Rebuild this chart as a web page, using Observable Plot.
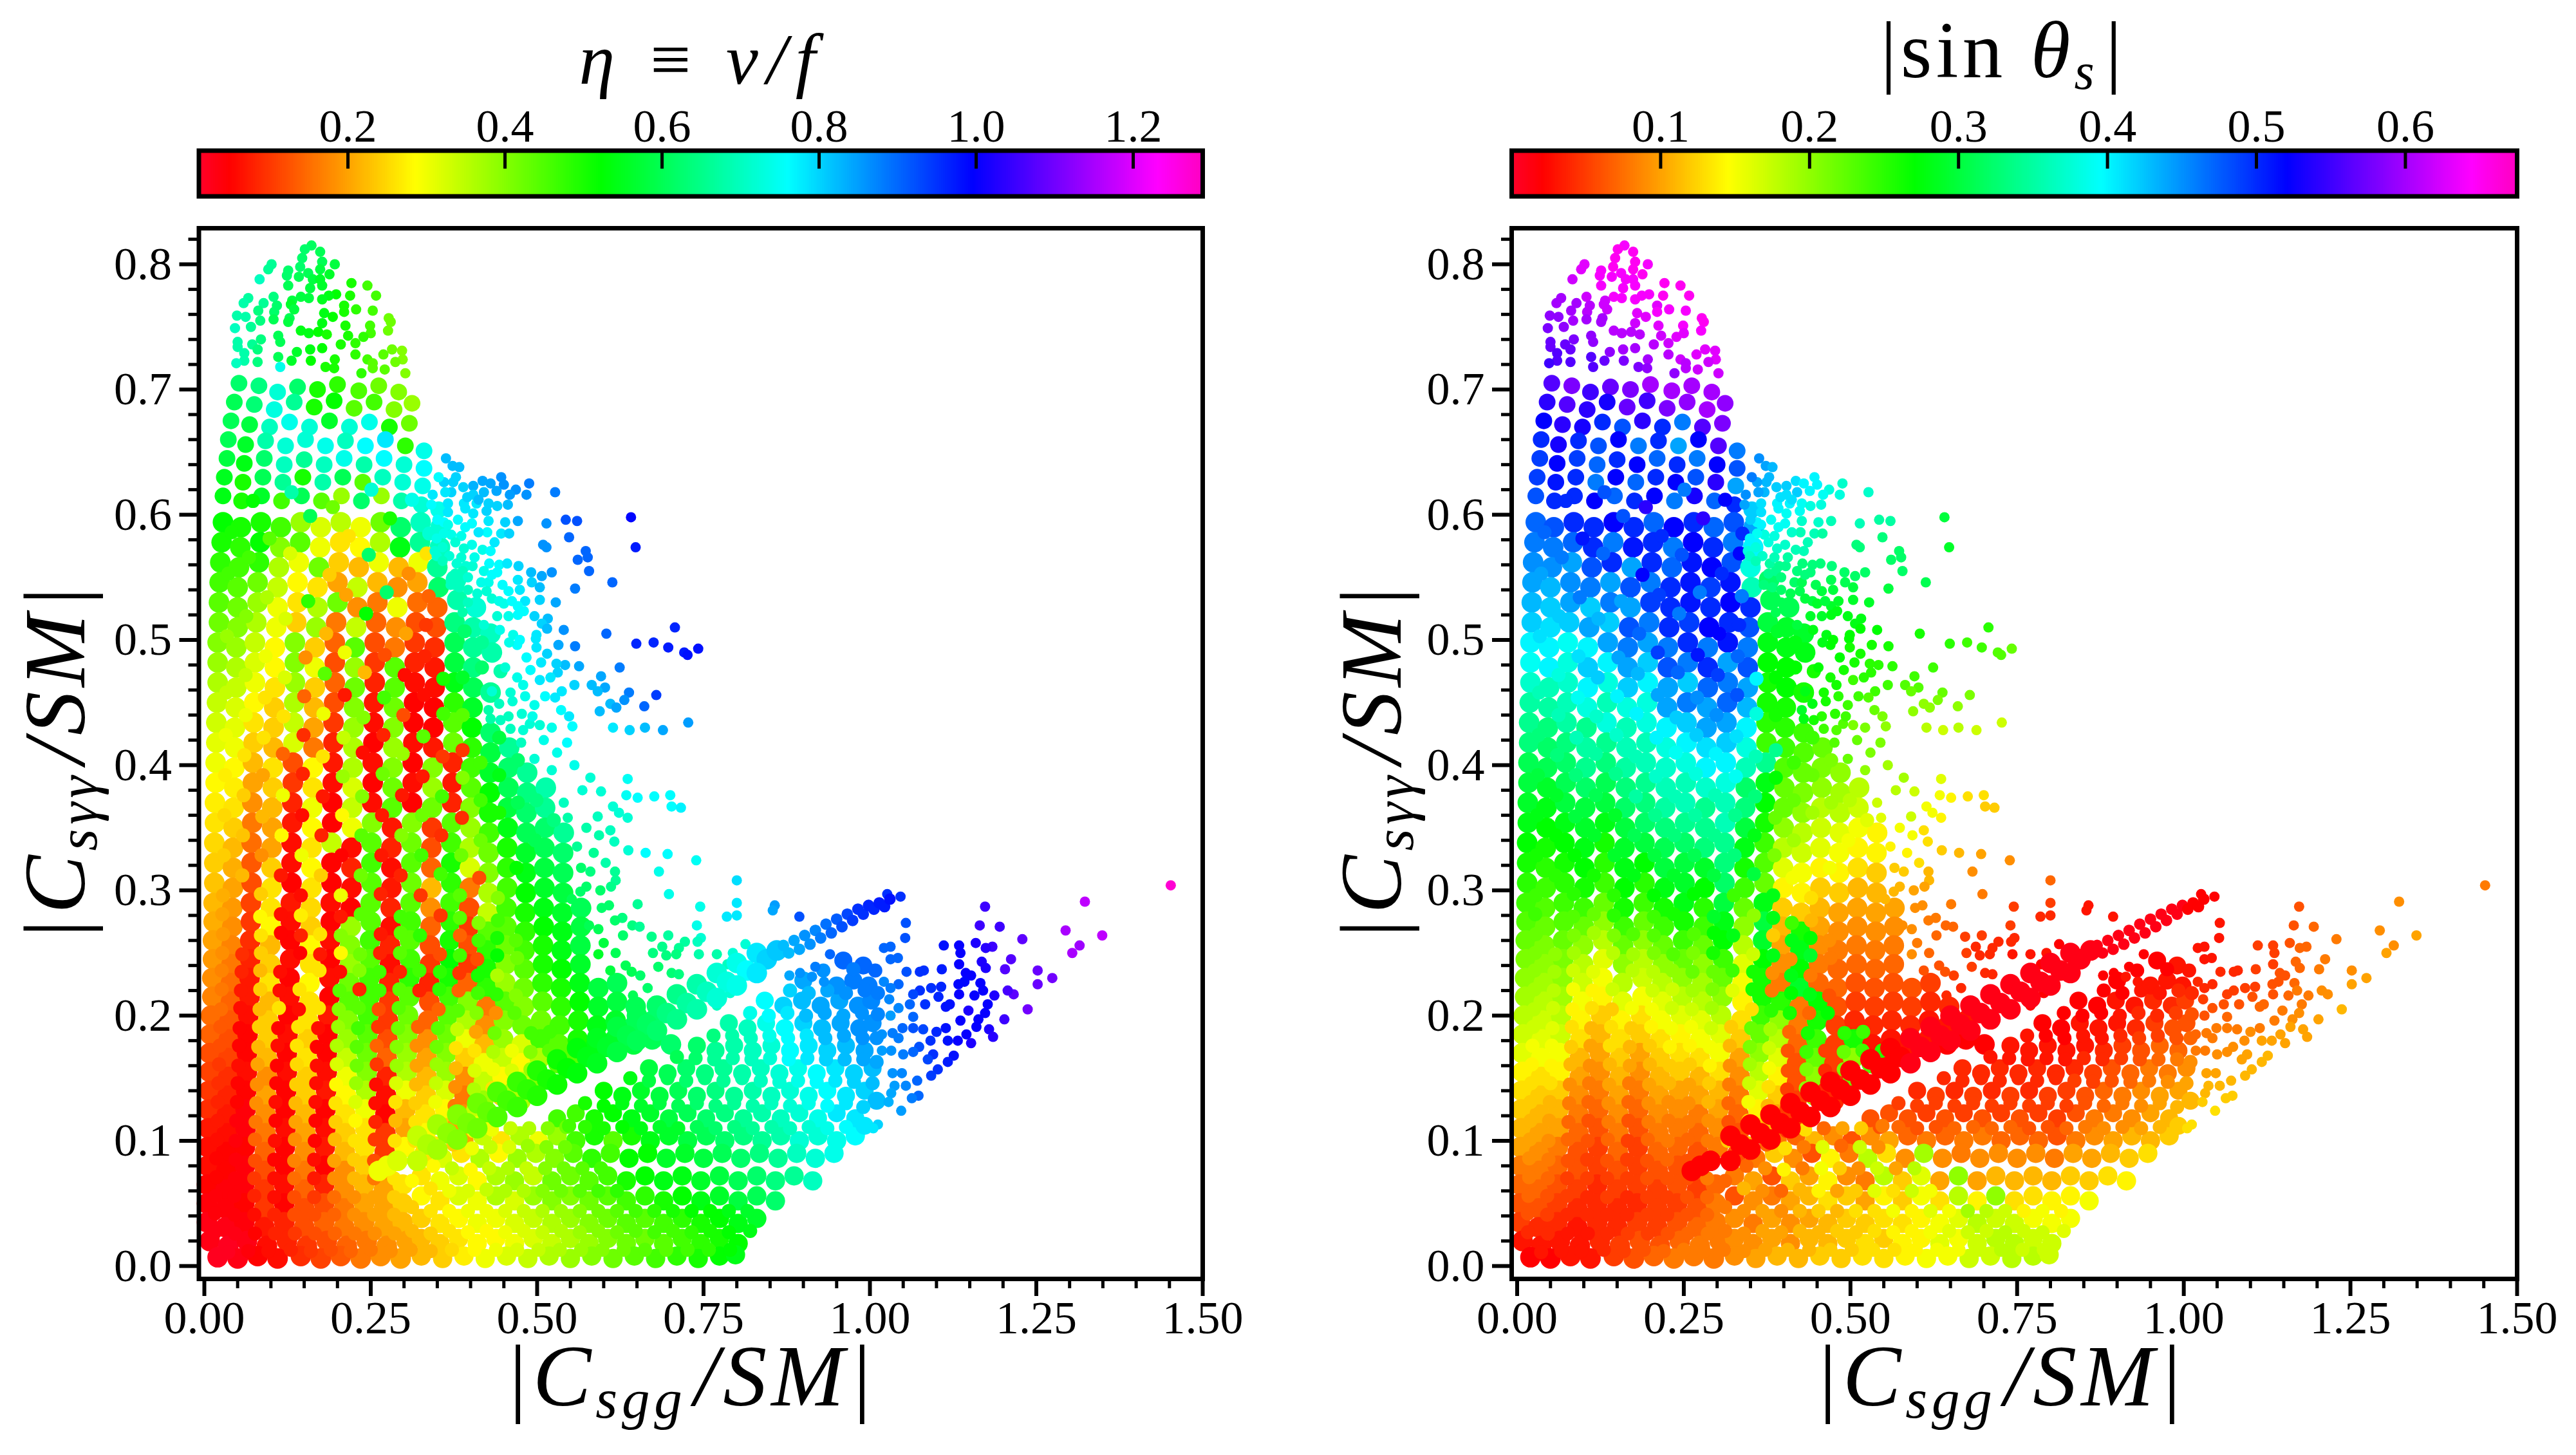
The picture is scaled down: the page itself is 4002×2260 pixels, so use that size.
<!DOCTYPE html>
<html><head><meta charset="utf-8">
<script src="https://cdn.jsdelivr.net/npm/d3@7"></script>
<script src="https://cdn.jsdelivr.net/npm/@observablehq/plot@0.6"></script>
<style>
html,body{margin:0;padding:0;background:#fff}
#page{position:relative;width:4002px;height:2260px;overflow:hidden;font-family:"Liberation Serif",serif;color:#000}
#page svg{position:absolute;background:transparent}
.m{position:absolute;white-space:nowrap;font-family:"Liberation Serif",serif;font-style:italic;line-height:1;letter-spacing:.05em;transform:translate(-50%,-50%)}
.m.r{transform:translate(-50%,-50%) rotate(-90deg)}
.m sub{font-size:64%;vertical-align:-.22em;line-height:0;margin-right:.14em}
.m b{font-weight:normal;font-style:normal}
</style></head><body><div id="page"></div>
<script>
// every row: [|Csgg/SM| x1000, |Csyy/SM| x1000, eta x100, |sin theta_s| x100]
const lobeTop=[[161,815,61,64],[151,812,62,65],[174,810,60,65],[147,805,62,65],[177,802,60,65],[196,800,58,64],[101,800,66,63],[96,796,66,63],[144,798,62,65],[174,796,58,65],[126,795,62,64],[156,793,60,64],[188,792,56,65],[83,788,70,62],[124,791,62,64],[142,790,60,64],[163,788,58,64],[174,788,56,64],[177,783,56,64],[126,783,60,64],[221,785,50,65],[245,783,46,65],[159,781,58,64],[258,775,46,65],[219,775,50,65],[198,776,52,64],[187,775,54,64],[177,772,55,64],[157,773,58,64],[145,774,58,64],[104,774,64,62],[132,771,58,62],[66,773,67,60],[59,769,68,60],[89,769,66,60],[130,768,56,62],[109,767,62,61],[210,767,50,63],[228,764,48,64],[253,763,46,64],[210,762,50,64],[135,764,58,62],[81,763,64,60],[105,762,62,61],[180,761,54,63],[193,758,52,63],[49,759,68,59],[62,758,68,59],[128,757,60,60],[104,756,60,60],[84,755,64,60],[126,754,58,60],[277,757,42,65],[280,754,42,65],[177,753,54,62],[212,751,50,63],[249,751,46,64],[70,750,66,59],[46,749,70,58],[276,747,42,64],[145,747,54,61],[157,745,54,61],[171,746,52,61],[184,744,50,61],[111,743,60,59],[250,745,46,63],[239,742,48,63],[216,743,50,62],[85,740,64,58],[114,738,60,59],[227,737,48,62],[205,736,50,61],[50,738,68,57],[72,736,66,57],[50,734,68,57],[80,732,64,57],[177,733,52,60],[159,732,54,60],[139,730,56,59],[282,732,42,63],[297,731,40,63],[269,728,44,63],[227,728,48,61],[298,724,40,63],[245,724,46,62],[196,724,50,60],[131,723,56,57],[111,726,60,56],[60,729,68,56],[160,723,52,58],[287,722,42,62],[253,721,44,61],[60,723,68,56],[80,722,64,56],[48,721,70,55],[182,718,50,58],[195,717,50,59],[253,717,44,61],[271,716,44,62],[114,718,74,56],[302,713,40,62],[236,713,48,59]];
const fringeHigh=[[363,645,82,45],[373,639,82,44],[383,638,82,43],[418,627,84,41],[446,630,86,40],[450,624,86,40],[488,625,88,37],[527,618,88,37],[468,620,86,38],[459,616,85,39],[439,619,84,40],[484,616,86,38],[404,623,83,42],[420,618,82,42],[374,626,80,43],[360,626,80,44],[389,622,80,42],[404,616,80,41],[371,618,80,43],[343,616,78,45],[427,609,80,39],[440,607,80,38],[456,608,82,38],[390,609,78,40],[409,609,78,40],[366,609,78,41],[424,603,80,39],[392,605,78,40],[366,602,78,41],[341,608,76,44],[404,601,78,39],[471,595,84,36],[641,598,99,30],[543,596,92,35],[560,595,92,35],[514,593,86,36],[427,595,78,37],[452,594,80,37],[381,596,76,39],[402,593,76,39],[360,594,76,40],[425,586,76,36],[446,585,78,36],[458,585,80,35],[648,574,97,29],[548,582,90,33],[509,576,86,33],[514,574,86,33],[386,583,74,38],[371,584,74,38],[360,585,74,39],[349,581,74,40],[377,578,72,38],[402,576,74,37],[390,573,72,37],[418,572,74,36],[430,571,76,36],[573,571,90,32],[576,566,90,32],[561,564,90,32],[346,571,72,38],[368,567,72,37],[349,567,72,37],[578,555,90,32],[428,561,76,33],[443,560,76,33],[455,561,78,33],[472,559,80,33],[358,563,70,36],[379,561,72,35],[393,559,72,34],[403,559,72,34],[388,555,70,34],[377,553,70,34],[420,555,74,33],[440,554,76,33],[491,554,82,32],[522,554,86,32],[507,551,84,32],[613,546,90,31],[492,546,80,31],[471,548,78,31],[396,550,72,33],[416,546,74,32],[427,546,74,31],[557,541,88,30],[504,542,82,30],[474,540,78,30],[457,539,76,30],[383,542,70,33],[396,540,70,32],[424,539,72,31],[432,533,72,30],[443,531,74,30],[482,531,78,29],[504,532,80,29],[528,530,84,29],[471,527,76,29],[450,529,74,29],[396,530,70,31],[480,523,76,28],[471,520,76,28],[496,519,80,28],[457,519,74,29],[440,519,72,29],[516,517,82,28],[507,513,80,28],[515,509,82,27],[540,508,86,27],[707,510,96,25],[604,505,90,26],[675,498,96,24],[649,497,96,25],[697,494,97,24],[721,490,97,23],[726,488,98,23],[742,493,98,22],[532,496,84,26],[557,495,88,26],[499,504,78,27],[498,501,78,27],[499,494,78,26],[515,489,80,26],[464,504,74,28],[474,500,76,27],[470,496,76,27],[624,478,88,24],[596,471,84,24],[563,479,84,25],[542,480,82,25],[529,481,80,25],[531,474,80,25],[504,468,78,24],[582,464,82,23],[556,464,80,24],[602,462,84,23],[591,459,82,22],[537,459,78,24],[527,454,78,23],[638,458,88,22],[679,456,94,21],[631,452,86,21],[610,449,82,20],[619,446,84,20],[661,447,90,20],[594,443,82,20],[536,444,76,22],[548,439,78,21],[727,434,85,17],[614,430,78,18],[639,428,80,17],[662,430,82,18],[689,428,84,17],[553,431,76,20],[522,430,74,21],[504,432,72,21],[489,433,72,23],[479,464,74,26],[482,455,74,25],[460,458,72,26],[432,459,72,28],[463,451,72,26],[443,449,70,28],[427,444,68,29],[457,439,70,25],[477,441,72,25],[493,439,74,24],[430,437,68,28],[460,429,70,24],[479,428,72,23]];
const fringeLow=[[636,389,75,16],[634,376,75,15],[651,374,76,14],[676,375,76,13],[700,376,76,13],[702,367,76,12],[716,366,77,12],[636,358,72,14],[614,367,72,15],[623,362,72,15],[591,359,70,17],[596,379,72,17],[580,390,72,19],[610,348,70,13],[593,344,68,15],[616,339,70,13],[637,332,72,12],[663,330,76,11],[696,329,76,10],[739,324,75,9],[683,315,74,9],[603,322,68,13],[585,330,66,14],[617,315,66,11],[618,308,66,11],[611,303,65,10],[800,308,79,7],[698,297,74,8],[574,303,62,11],[565,299,62,11],[552,293,60,11],[651,289,66,8],[608,288,62,9],[597,286,62,9],[800,290,78,5],[745,287,74,5],[857,288,85,3],[854,284,84,3],[800,280,78,4],[785,279,78,4],[894,279,92,3],[628,278,64,8],[617,276,62,8],[643,272,64,7],[654,271,66,7],[740,272,74,5],[697,264,67,5],[672,263,65,5],[629,264,62,7],[592,269,60,9],[746,262,72,4],[741,259,70,4],[722,259,67,4],[688,255,65,4],[713,254,66,4],[813,257,72,2],[674,250,64,5],[709,249,64,4],[694,248,64,4],[770,249,68,3],[743,249,68,3],[794,250,72,3],[940,249,90,2],[592,249,56,9],[682,239,62,5],[633,240,60,6],[642,235,60,6],[702,234,63,4],[713,233,64,4],[786,241,70,2],[918,239,88,2],[879,232,84,2],[895,234,86,2],[913,231,86,3],[931,227,86,3]];
const tail=[[1452,304,127,8],[1323,291,117,9],[1349,264,117,10],[1294,268,115,9],[1315,256,114,9],[1304,250,115,10],[1274,230,110,10],[1252,236,109,9],[1252,225,109,10],[1237,205,110,11],[1229,261,108,8],[1195,271,105,7],[1173,287,105,6],[1165,272,105,6],[1212,245,107,8],[1203,237,107,8],[1216,217,108,9],[1207,220,106,9],[1202,197,105,10],[1187,216,102,8],[1184,255,105,7],[1174,254,103,7],[1159,258,102,6],[1134,256,100,5],[1136,250,100,5],[1134,241,100,5],[1111,256,98,5],[1168,243,102,7],[1174,238,102,7],[1144,234,100,6],[1152,232,100,6],[1166,226,100,7],[1170,220,100,8],[1133,225,99,6],[1142,227,99,6],[1108,237,97,5],[1081,236,95,4],[1075,235,95,4],[1055,235,92,4],[1053,262,92,3],[1054,274,92,3],[1046,295,95,2],[1026,297,95,2],[1031,255,90,3],[1021,254,90,3],[1042,246,90,3],[1031,245,90,3],[1021,227,87,4],[1043,225,90,4],[1031,222,88,4],[1092,222,95,5],[1107,223,96,5],[1075,220,95,5],[1065,217,93,5],[1103,215,96,6],[1134,217,100,6],[1157,216,100,7],[1177,209,100,8],[1148,204,102,8],[1114,207,98,7],[1120,209,98,7],[1083,209,95,6],[1060,209,90,6],[1043,206,87,6],[1029,213,87,5],[1031,200,85,6],[1065,199,90,7],[1136,196,100,8],[1163,197,100,9],[1173,202,100,9],[1179,189,102,10],[1185,183,103,10],[1152,178,102,10],[1132,180,100,10],[1145,185,100,10],[1160,191,100,10],[1114,190,98,8],[1100,187,96,9],[1117,180,98,10],[1091,180,95,9],[1080,189,93,8],[1065,190,92,8],[1049,190,90,8],[1034,186,88,8],[1018,185,86,7],[1043,182,88,8],[1074,175,92,9],[1126,168,98,11],[1117,163,97,11],[1095,169,95,10],[1087,165,93,10],[1102,157,95,11],[1092,152,94,11],[1065,171,90,9],[1050,169,88,9],[1032,172,86,8],[1018,172,85,8],[1048,154,87,10],[1034,154,86,10],[1071,148,90,11],[1054,144,87,11],[1037,144,85,11],[1073,136,90,12],[1063,134,88,12],[1032,138,84,11],[1028,131,83,12],[1047,124,85,13],[1012,113,80,13],[1005,110,78,13]];
const coreTop=[[52,705,62,56],[82,703,64,58],[110,698,72,55],[140,702,62,57],[170,700,50,58],[200,704,48,60],[232,699,45,60],[262,703,42,60],[292,698,40,60],[45,690,60,54],[75,688,63,56],[105,684,73,54],[135,690,66,53],[165,686,50,57],[195,691,52,55],[225,685,44,58],[255,690,46,59],[285,684,40,60],[312,689,38,59],[40,675,60,52],[68,672,58,54],[98,670,70,53],[128,674,74,50],[158,670,72,48],[188,675,56,54],[218,670,72,50],[248,674,74,46],[278,670,50,56],[308,673,42,58],[36,660,60,50],[62,656,56,53],[92,659,68,50],[122,655,72,48],[152,660,72,52],[182,655,74,46],[212,659,70,50],[242,655,76,44],[272,660,78,52],[302,655,48,56],[330,651,74,46],[34,645,58,49],[60,641,54,52],[90,645,62,49],[120,640,70,47],[150,644,66,50],[180,640,70,52],[210,645,74,47],[240,640,68,50],[270,645,76,46],[300,640,72,52],[330,637,76,48],[30,630,55,49],[58,626,50,51],[88,630,60,50],[118,626,66,46],[148,630,50,52],[178,626,68,47],[208,630,60,50],[238,626,44,52],[268,630,70,48],[298,626,72,54],[328,623,74,44],[28,615,54,48],[56,611,50,50],[86,615,56,50],[116,611,46,52],[146,615,60,47],[176,611,44,50],[206,615,38,52],[236,611,62,46],[266,615,38,53],[296,611,68,47],[326,608,72,50],[352,604,74,42]];
const coreUpper=[[28,594,52,47],[55,590,50,48],[85,594,50,50],[115,590,46,50],[145,594,38,52],[175,590,32,50],[205,594,35,47],[235,590,30,52],[265,594,42,50],[295,590,62,47],[325,594,70,48],[355,590,72,44],[26,578,50,46],[54,574,48,46],[84,578,52,47],[114,574,40,50],[144,578,44,46],[174,574,30,51],[204,578,26,50],[234,574,28,46],[264,578,36,52],[294,574,54,50],[324,578,66,46],[354,574,70,40],[24,562,48,45],[52,558,46,45],[82,562,48,44],[112,558,36,48],[142,562,30,50],[172,558,42,44],[202,562,24,50],[232,558,22,47],[262,562,30,51],[292,558,22,52],[322,562,30,48],[350,558,66,38],[23,546,46,44],[50,542,44,43],[80,546,42,45],[110,542,34,46],[140,546,28,44],[170,542,26,48],[200,546,20,46],[230,542,34,50],[260,546,22,51],[290,542,18,49],[320,546,20,51],[352,542,62,36],[378,548,70,32],[22,530,44,43],[50,526,42,42],[80,530,38,44],[110,526,30,42],[140,530,26,46],[170,526,36,44],[200,530,42,49],[230,526,18,50],[260,530,16,51],[290,526,30,50],[320,530,15,52],[350,526,14,50],[380,532,68,31],[408,526,72,31],[22,514,42,42],[50,510,40,41],[78,514,36,42],[108,510,30,44],[138,514,24,42],[168,510,38,48],[198,514,16,46],[228,510,34,50],[258,514,14,49],[288,510,18,52],[318,514,12,50],[348,510,12,48],[376,514,64,30],[404,510,68,29],[430,505,70,29],[20,498,40,40],[48,494,38,40],[76,498,34,39],[106,494,28,40],[136,498,40,44],[166,494,24,46],[196,498,14,44],[226,494,44,46],[256,498,12,50],[286,494,16,46],[316,498,10,51],[346,494,9,46],[376,498,60,28],[404,494,66,28],[432,490,68,28],[20,482,38,39],[48,478,36,40],[76,482,32,38],[106,478,28,42],[136,482,40,40],[166,478,30,44],[196,482,12,42],[226,478,38,48],[256,482,10,46],[286,478,44,50],[316,482,8,44],[346,478,7,48],[376,482,58,27],[404,478,64,27],[20,466,36,37],[48,462,34,36],[76,466,30,37],[106,462,26,40],[136,466,38,38],[166,462,24,42],[196,466,14,40],[226,462,42,44],[256,466,8,42],[286,462,44,47],[316,466,6,46],[346,462,6,44],[376,466,54,26],[404,462,60,27],[430,458,66,26],[19,450,34,35],[47,446,32,35],[75,450,28,36],[105,446,24,38],[135,450,36,36],[165,446,22,38],[195,450,12,38],[225,446,40,44],[255,450,7,46],[285,446,42,44],[315,450,5,47],[345,446,5,43],[375,450,48,26],[403,446,56,26],[18,434,33,34],[46,430,31,33],[74,434,26,35],[104,430,24,34],[134,434,34,38],[164,430,20,36],[194,434,10,38],[224,430,38,40],[254,434,6,42],[284,430,40,44],[314,434,5,44],[344,430,5,40],[374,434,44,25],[402,430,52,25],[430,426,62,24],[18,418,31,33],[46,414,30,32],[74,418,24,33],[104,414,22,35],[134,418,32,34],[164,414,16,36],[194,418,8,36],[224,414,36,38],[254,418,5,40],[284,414,38,41],[314,418,6,42],[344,414,7,38],[374,418,42,24],[402,414,48,24],[430,410,58,23],[458,414,66,22],[17,402,30,31],[45,398,28,31],[73,402,22,32],[103,398,26,34],[133,402,12,33],[163,398,28,35],[193,402,7,36],[223,398,36,37],[253,402,6,38],[283,398,40,40],[313,402,5,40],[343,398,40,36],[373,402,8,34],[401,398,46,23],[429,394,56,22],[457,398,62,21],[485,394,66,20],[17,386,28,30],[45,382,27,29],[73,386,20,31],[103,382,24,32],[133,386,10,31],[163,382,26,33],[193,386,6,34],[223,382,32,36],[253,386,5,36],[283,382,42,37],[313,386,6,38],[343,382,38,32],[373,386,7,28],[401,382,44,22],[429,378,52,21],[457,382,60,20],[485,378,64,19],[513,382,68,18],[16,370,27,29],[44,366,26,28],[72,370,18,30],[102,366,22,30],[132,370,8,30],[162,366,30,32],[192,370,5,33],[222,366,34,35],[252,370,6,36],[282,366,44,34],[312,370,5,36],[342,366,42,33],[372,370,8,27],[400,366,40,22],[428,362,50,20],[456,366,58,18],[484,362,62,18],[512,366,66,17],[16,354,26,28],[44,350,24,27],[72,354,16,28],[102,350,20,29],[132,354,7,28],[162,350,28,30],[192,354,5,32],[222,350,30,33],[252,354,40,34],[282,350,7,34],[312,354,40,36],[342,350,10,30],[372,354,44,26],[400,350,38,20],[428,346,46,18],[456,350,54,17],[484,346,60,16],[512,350,62,15],[540,346,66,14],[15,338,25,27],[43,334,22,26],[71,338,15,27],[101,334,20,28],[131,338,6,26],[161,334,26,29],[191,338,34,30],[221,334,6,31],[251,338,44,32],[281,334,8,33],[311,338,42,34],[341,334,12,28],[371,338,46,24],[399,334,36,18],[427,330,42,17],[455,334,50,16],[483,330,56,15],[511,334,60,14],[539,330,62,14],[15,322,24,26],[43,318,21,25],[71,322,13,26],[101,318,24,27],[131,322,6,25],[161,318,28,28],[191,322,5,27],[221,318,8,30],[251,322,46,30],[281,318,6,29],[311,322,44,33],[341,318,14,26],[371,322,50,23],[399,318,32,16],[427,314,40,15],[455,318,48,14],[483,314,54,14],[511,318,58,13],[539,314,60,12],[15,306,23,25],[43,302,20,24],[71,306,12,25],[101,302,26,26],[131,306,5,24],[161,302,26,27],[191,306,5,25],[221,302,6,28],[251,306,44,29],[281,302,7,27],[311,306,42,32],[341,302,22,24],[371,306,48,22],[399,302,16,14],[427,298,36,14],[455,302,46,12],[483,298,52,12],[511,302,56,11],[539,298,58,11]];
const coreLower=[[14,290,22,24],[42,286,19,23],[70,290,11,24],[100,286,26,24],[130,290,7,22],[160,286,25,26],[190,290,6,24],[220,286,5,26],[250,290,44,28],[280,286,8,25],[310,290,44,30],[340,286,18,22],[370,290,46,28],[398,286,12,12],[426,282,34,12],[454,286,46,11],[482,282,50,10],[510,286,54,10],[538,282,56,10],[566,286,60,10],[14,275,21,23],[42,271,18,22],[70,275,10,23],[100,271,28,22],[130,275,6,20],[160,271,24,24],[190,275,5,22],[220,271,38,24],[250,275,44,26],[280,271,6,24],[310,275,46,28],[340,271,14,20],[370,275,48,30],[398,271,10,11],[426,267,44,26],[454,271,44,10],[482,267,48,9],[510,271,52,9],[538,267,54,9],[566,271,58,9],[13,260,20,22],[41,256,17,21],[69,260,9,22],[99,256,22,20],[129,260,5,18],[159,256,28,22],[189,260,6,20],[219,256,40,22],[249,260,46,24],[279,256,8,22],[309,260,44,27],[339,256,12,18],[369,260,50,29],[397,256,12,10],[425,252,48,28],[453,256,42,9],[481,252,46,8],[509,256,50,8],[537,252,54,8],[565,256,58,8],[13,245,19,21],[41,241,16,20],[69,245,8,21],[99,241,24,18],[129,245,6,16],[159,241,26,20],[189,245,5,18],[219,241,38,20],[249,245,44,22],[279,241,6,20],[309,245,46,24],[339,241,10,16],[369,245,52,27],[397,241,10,9],[425,237,50,27],[453,241,40,8],[481,237,44,7],[509,241,50,7],[537,237,52,7],[565,241,56,7],[12,230,18,20],[40,226,15,19],[68,230,7,20],[98,226,26,17],[128,230,5,15],[158,226,28,18],[188,230,6,17],[218,226,42,18],[248,230,46,20],[278,226,8,19],[308,230,48,22],[338,226,8,15],[368,230,50,26],[396,226,14,8],[424,222,48,29],[452,226,38,7],[480,222,42,7],[508,226,48,6],[536,222,50,6],[564,226,54,6],[592,222,58,6],[620,226,60,5],[12,215,17,19],[40,211,14,18],[68,215,7,19],[98,211,22,15],[128,215,6,14],[158,211,26,16],[188,215,5,15],[218,211,44,16],[248,215,46,18],[278,211,10,18],[308,215,44,20],[338,211,12,14],[368,215,46,26],[396,211,40,25],[424,207,16,8],[452,211,44,27],[480,207,40,6],[508,211,44,5],[536,207,48,5],[564,211,52,5],[592,207,56,5],[620,211,58,4],[648,207,60,4],[10,200,15,18],[38,196,13,17],[66,200,6,18],[96,196,24,14],[126,200,5,12],[156,196,26,14],[186,200,7,13],[216,196,40,15],[246,200,46,16],[276,196,10,16],[306,200,42,18],[336,196,14,13],[366,200,44,24],[394,196,36,20],[422,192,18,8],[450,196,40,26],[478,192,42,5],[506,196,42,4],[534,192,46,4],[562,196,50,4],[590,192,54,4],[618,196,56,3],[646,192,60,3],[674,196,62,3],[9,185,14,17],[37,181,12,16],[65,185,5,17],[95,181,24,13],[125,185,6,11],[155,181,24,13],[185,185,5,12],[215,181,38,13],[245,185,44,14],[275,181,12,15],[305,185,40,16],[335,181,18,12],[365,185,42,22],[393,181,30,18],[421,177,22,7],[449,181,38,24],[477,177,32,5],[505,181,46,26],[533,177,44,3],[561,181,50,3],[589,177,54,3],[617,181,56,3],[645,177,58,2],[673,181,60,2],[701,177,62,2],[8,170,12,16],[36,166,11,15],[64,170,5,15],[94,166,22,11],[124,170,5,10],[154,166,26,12],[184,170,5,10],[214,166,34,12],[244,170,42,13],[274,166,14,13],[304,170,38,15],[334,166,20,10],[364,170,40,20],[392,166,24,16],[420,162,30,6],[448,166,34,22],[476,162,28,5],[504,166,36,20],[532,162,44,23],[560,166,44,2],[8,155,11,14],[36,151,9,13],[64,155,6,14],[94,151,18,10],[124,155,6,9],[154,151,24,11],[184,155,6,9],[214,151,30,11],[244,155,40,12],[274,151,8,11],[304,155,36,13],[334,151,22,9],[364,155,38,18],[392,151,18,14],[420,147,34,6],[448,151,28,20],[476,147,34,4],[504,151,40,22],[7,140,10,13],[35,136,8,12],[63,140,5,12],[93,136,20,9],[123,140,5,8],[153,136,24,10],[183,140,7,8],[213,136,28,10],[243,140,36,10],[273,136,6,10],[303,140,30,11],[333,136,24,8],[363,140,32,16],[391,136,16,12],[419,132,38,5],[447,136,24,19],[475,132,36,4],[6,125,9,12],[34,121,7,11],[62,125,4,11],[92,121,18,8],[122,125,5,7],[152,121,22,9],[182,125,5,7],[212,121,26,9],[242,125,30,9],[272,121,5,8],[302,125,22,10],[332,121,26,7],[362,125,28,14],[390,121,18,10],[418,117,30,5],[6,110,7,11],[34,106,6,10],[62,110,4,10],[92,106,16,7],[122,110,6,6],[152,106,20,8],[182,110,6,6],[212,106,24,8],[242,110,26,8],[272,106,10,7],[302,110,20,9],[332,106,28,6],[362,110,24,12],[5,95,6,10],[33,91,5,9],[61,95,5,8],[91,91,14,6],[121,95,5,5],[151,91,18,7],[181,95,7,5],[211,91,22,7],[241,95,26,7],[271,91,10,6],[301,95,28,8],[5,80,6,8],[33,76,5,8],[61,80,4,7],[91,76,12,6],[121,80,5,5],[151,76,16,6],[181,80,5,5],[211,76,18,6],[241,80,24,6],[271,76,18,6],[4,65,5,7],[32,61,4,7],[60,65,4,6],[90,61,10,5],[120,65,6,4],[150,61,14,5],[180,65,8,5],[210,61,18,5],[240,65,22,6],[270,61,20,5],[298,65,26,7],[4,50,4,6],[32,46,4,6],[60,50,5,5],[90,46,10,4],[120,50,5,4],[150,46,12,4],[180,50,12,4],[210,46,16,5],[240,50,20,5],[270,46,20,6],[298,50,24,8],[4,35,3,5],[32,31,3,4],[60,35,4,4],[90,31,7,3],[120,35,8,4],[150,31,12,4],[180,35,14,5],[210,31,16,5],[240,35,18,6],[270,31,20,7],[298,35,22,8],[8,20,3,3],[36,16,2,3],[64,20,3,3],[94,16,6,3],[124,20,8,4],[154,16,10,5],[184,20,12,6],[214,16,14,6],[244,20,16,7],[274,16,18,8],[304,20,20,8],[20,7,2,2],[50,6,3,2],[80,8,5,3],[110,6,6,3],[145,8,9,5],[175,6,11,6],[205,8,13,7],[235,6,16,8],[265,8,18,8],[295,6,20,8]];
const wedge=[[390,100,20,8],[418,104,34,7],[446,100,26,11],[474,104,36,9],[502,100,30,6],[530,104,38,9],[558,100,46,10],[586,104,50,7],[614,100,44,8],[642,104,50,7],[670,100,54,8],[698,104,56,8],[726,100,58,7],[754,104,60,7],[782,100,62,7],[810,104,64,6],[838,100,66,8],[866,104,68,9],[894,100,72,10],[922,104,72,11],[950,100,74,11],[978,104,76,12],[330,90,26,6],[358,86,32,8],[386,90,26,12],[414,86,36,9],[442,90,28,6],[470,86,38,14],[498,90,36,8],[526,86,40,18],[554,90,44,13],[582,86,48,9],[610,90,46,19],[638,86,52,9],[666,90,52,8],[694,86,56,9],[722,90,56,9],[750,86,58,9],[778,90,60,9],[806,86,62,8],[834,90,64,10],[862,86,66,10],[890,90,70,11],[918,86,72,12],[946,90,74,13],[326,72,26,8],[354,68,30,10],[382,72,32,6],[410,68,28,12],[438,72,36,10],[466,68,38,14],[494,72,34,9],[522,68,42,8],[550,72,42,18],[578,68,44,12],[606,72,46,16],[634,68,50,10],[662,72,52,20],[690,68,54,10],[718,72,54,11],[746,68,56,11],[774,72,58,11],[802,68,60,11],[830,72,62,12],[858,68,64,12],[886,72,66,13],[914,68,70,14],[326,56,28,6],[354,52,26,9],[382,56,32,8],[410,52,30,10],[438,56,36,11],[466,52,32,13],[494,56,38,12],[522,52,40,10],[550,56,40,14],[578,52,42,12],[606,56,44,15],[634,52,46,13],[662,56,48,18],[690,52,50,14],[718,56,52,20],[746,52,54,13],[774,56,56,13],[802,52,58,14],[830,56,60,14],[858,52,62,15],[326,38,24,9],[354,34,26,8],[382,38,28,10],[410,34,30,9],[438,38,30,10],[466,34,32,11],[494,38,34,12],[522,34,36,12],[550,38,38,13],[578,34,40,13],[606,38,42,14],[634,34,44,15],[662,38,44,16],[690,34,46,18],[718,38,48,17],[746,34,50,17],[774,38,52,15],[802,34,54,15],[830,38,56,15],[326,22,22,9],[354,18,24,9],[382,22,26,10],[410,18,28,9],[438,22,28,11],[466,18,30,11],[494,22,32,12],[522,18,34,13],[550,22,36,12],[578,18,38,14],[606,22,40,14],[634,18,42,16],[662,22,42,15],[690,18,44,17],[718,22,46,18],[746,18,48,18],[774,22,50,17],[802,18,52,17],[326,8,22,9],[358,6,24,10],[390,8,27,11],[422,6,30,11],[454,8,32,12],[486,6,34,12],[518,8,36,13],[550,6,38,13],[582,8,40,14],[614,6,42,15],[646,8,44,15],[678,6,46,17],[710,8,48,17],[742,6,50,18],[774,8,52,18],[798,9,54,17]];
const wedgeUpper=[[530,118,46,6],[558,122,46,6],[586,118,50,6],[614,122,52,5],[642,118,54,6],[670,122,56,5],[698,118,58,6],[726,122,60,5],[754,118,62,6],[782,122,64,5],[810,118,66,5],[838,122,68,6],[866,118,70,8],[894,122,72,8],[922,118,74,9],[950,122,78,10],[978,118,78,11],[992,112,78,12],[600,140,52,4],[628,136,54,5],[656,140,56,4],[684,136,58,5],[712,140,60,4],[740,136,62,5],[768,140,64,4],[796,136,66,5],[824,140,68,5],[852,136,70,6],[880,140,72,7],[908,136,74,8],[936,140,76,9],[964,136,78,10],[992,140,80,10],[1010,132,82,11],[668,158,58,4],[696,154,60,4],[724,158,62,4],[752,154,64,4],[780,158,66,4],[808,154,68,4],[836,158,70,4],[864,154,72,5],[892,158,74,6],[920,154,76,7],[948,158,78,8],[976,154,80,8],[1004,158,82,9],[740,176,62,3],[768,172,66,3],[796,176,68,3],[824,172,70,3],[852,176,72,3],[880,172,76,4],[908,176,78,5],[936,172,80,6],[964,176,82,7],[992,172,84,7],[788,194,68,2],[816,190,70,2],[844,194,74,3],[872,190,76,3],[900,194,80,3],[928,190,82,4],[956,194,84,5],[984,190,86,6],[1004,194,86,6],[842,212,76,2],[870,208,80,2],[898,212,82,3],[926,208,84,3],[954,212,84,4],[982,208,86,4],[1002,212,87,5],[900,228,84,2],[950,224,86,3],[975,228,88,3],[998,224,88,3],[960,244,90,2],[990,240,90,3]];
// irregular scatter read from the mottled inner cloud
const speckleUpper=[[73,611,52,50],[131,618,68,48],[193,606,42,54],[251,620,72,46],[312,612,74,52],[41,586,50,47],[98,581,44,51],[159,599,60,48],[217,583,26,50],[279,597,50,54],[338,585,72,50],[67,566,46,46],[129,569,32,47],[188,552,24,52],[247,568,62,48],[307,553,18,50],[334,569,26,52],[36,553,46,44],[94,534,36,46],[156,531,48,44],[213,536,20,49],[274,538,62,46],[337,535,14,46],[63,519,40,42],[122,517,32,43],[183,505,22,47],[243,521,52,46],[303,505,20,52],[333,512,10,50],[34,503,38,41],[92,487,30,41],[152,486,18,44],[211,490,30,49],[271,488,12,51],[331,487,8,47],[62,472,34,38],[121,470,32,42],[181,473,44,43],[241,474,22,47],[301,472,6,49],[359,469,50,40],[33,458,34,36],[91,454,26,39],[150,455,14,40],[211,456,7,44],[270,454,46,45],[330,456,6,48],[62,440,30,36],[119,439,26,37],[179,441,30,40],[239,438,40,42],[299,440,12,45],[359,441,46,38],[32,424,30,33],[89,422,26,36],[149,424,9,37],[209,422,34,40],[269,424,8,42],[329,423,44,41],[60,408,26,33],[118,409,14,35],[178,407,26,36],[238,410,6,39],[298,409,38,40],[358,407,10,36],[31,392,27,30],[88,392,20,33],[148,393,8,34],[208,391,38,37],[268,393,42,38],[328,391,7,39],[388,390,40,27],[59,376,24,29],[118,376,30,31],[178,375,7,35],[237,375,40,36],[297,376,7,36],[357,375,46,33],[30,360,25,28],[87,359,22,30],[147,360,6,29],[207,360,28,34],[267,360,7,35],[327,360,42,34],[387,358,9,22],[58,344,23,27],[116,344,28,29],[176,344,8,31],[236,344,44,33],[296,344,40,34],[356,344,9,28],[29,328,24,26],[86,328,18,27],[146,328,30,29],[206,328,5,30],[266,328,7,31],[326,328,46,33],[386,328,42,21],[57,312,22,25],[115,312,7,26],[175,312,24,28],[235,312,42,29],[295,312,8,30],[355,313,46,30],[413,310,12,15],[28,296,21,24],[85,297,24,25],[145,296,6,25],[205,296,30,27],[265,297,8,27],[325,296,10,24],[384,296,44,28],[441,294,40,13],[469,318,52,15],[497,340,60,15],[525,356,64,16],[415,340,42,19],[443,362,50,19],[471,370,60,19],[499,372,64,18],[415,372,46,22],[443,392,54,22],[471,404,62,21],[415,402,46,24],[443,422,58,24],[388,412,10,34],[388,440,44,26],[388,470,56,27],[391,507,62,29],[417,478,62,27],[417,498,66,28],[445,475,68,26]];
const speckleLower=[[27,281,20,24],[84,279,28,23],[115,281,6,22],[145,280,27,25],[205,279,7,24],[235,281,44,26],[295,279,46,29],[355,280,10,20],[384,278,44,28],[412,274,40,24],[441,276,46,11],[28,265,19,22],[85,264,26,21],[115,266,5,19],[145,264,8,21],[174,265,26,23],[205,264,40,23],[265,265,7,23],[295,266,44,27],[324,264,48,28],[384,264,14,12],[412,260,46,28],[440,262,50,27],[468,260,44,9],[27,250,18,21],[57,249,9,20],[85,250,24,19],[144,250,5,18],[174,249,7,19],[205,250,28,21],[234,249,42,23],[264,250,8,21],[294,250,44,26],[354,249,12,17],[384,248,46,28],[410,245,12,9],[440,248,52,29],[470,246,42,8],[26,236,17,20],[56,235,8,19],[84,236,22,17],[114,235,6,16],[173,236,26,18],[204,235,6,18],[233,236,40,20],[263,235,46,22],[294,235,8,22],[323,236,46,24],[354,235,48,26],[383,234,10,9],[411,232,50,28],[440,232,36,8],[26,221,16,19],[55,220,7,18],[84,221,24,15],[113,220,6,14],[143,221,26,17],[203,220,44,17],[233,221,8,17],[263,220,46,19],[293,221,44,21],[323,220,8,16],[353,221,48,26],[382,220,14,8],[411,218,46,27],[439,217,48,28],[468,216,40,6],[25,205,15,18],[54,206,6,17],[83,205,22,14],[112,206,26,13],[142,205,6,12],[172,206,26,15],[202,205,40,15],[232,206,44,17],[262,205,12,17],[292,206,44,19],[352,205,14,13],[381,204,44,25],[409,202,40,26],[438,202,18,7],[466,202,44,27],[24,191,13,17],[53,190,5,16],[82,191,24,13],[111,190,5,11],[141,191,26,13],[171,190,6,12],[201,191,38,14],[231,190,46,15],[261,191,10,15],[291,190,42,17],[321,191,14,12],[351,190,44,22],[380,189,34,19],[408,187,20,7],[436,186,42,26],[491,186,46,25],[519,187,46,24],[23,176,12,15],[52,176,5,15],[81,175,22,12],[110,176,6,10],[139,176,26,13],[169,175,5,11],[199,176,36,12],[229,175,44,14],[259,176,14,14],[289,175,40,15],[319,176,18,11],[349,175,42,21],[378,174,26,17],[406,172,26,6],[434,171,36,24],[462,172,30,5],[490,171,40,22],[518,172,44,24],[547,172,44,25],[22,161,10,14],[51,160,6,14],[80,161,20,11],[109,160,5,9],[139,161,25,11],[169,160,6,10],[199,161,32,11],[229,160,42,12],[259,161,10,12],[289,160,38,14],[319,160,20,9],[349,161,38,19],[378,158,22,15],[406,156,32,6],[434,157,30,21],[462,156,32,4],[490,157,38,21],[21,146,9,13],[50,146,5,13],[79,145,18,9],[108,146,5,8],[138,145,24,10],[168,146,6,8],[198,145,28,10],[228,146,38,11],[258,145,6,10],[288,146,32,12],[318,145,22,8],[348,146,34,17],[377,143,18,13],[405,141,36,5],[433,142,26,20],[461,141,36,4],[20,131,8,12],[49,131,5,11],[78,130,18,8],[107,131,6,7],[137,130,22,9],[167,131,6,7],[197,130,26,9],[227,131,32,9],[257,130,6,9],[287,131,26,11],[317,130,24,7],[347,131,30,15],[376,128,16,11],[404,125,34,5],[20,116,7,11],[48,116,4,10],[77,115,16,7],[107,116,5,6],[137,115,20,8],[167,116,5,6],[197,115,24,8],[227,116,28,8],[257,115,8,8],[287,116,22,9],[317,115,26,6],[347,116,26,13],[376,113,20,11],[404,108,28,5],[432,109,30,13],[460,110,34,7],[488,110,36,10],[516,110,40,12],[544,111,42,6],[19,101,6,10],[47,100,4,9],[76,101,14,7],[106,100,6,6],[136,101,18,7],[166,100,5,5],[196,101,22,7],[226,100,26,8],[256,101,10,7],[286,100,26,8],[316,100,26,12],[346,98,26,11],[374,97,24,7],[402,94,30,13],[430,95,34,8],[458,95,32,16],[486,96,38,7],[514,95,40,17],[542,95,42,9],[18,86,5,9],[47,85,4,8],[76,84,12,6],[105,85,5,5],[135,84,17,6],[165,85,6,5],[195,84,20,6],[225,85,24,7],[255,84,12,6],[285,85,26,7],[315,84,24,11],[344,80,28,7],[372,78,34,9],[400,77,28,14],[428,78,34,8],[456,78,36,15],[484,78,34,12],[512,78,40,9],[540,78,42,17],[568,78,44,10],[596,78,46,18],[18,71,5,8],[46,70,4,7],[75,70,10,5],[105,70,6,5],[135,70,15,5],[165,70,7,5],[195,70,18,6],[225,70,22,6],[255,70,16,6],[285,70,26,8],[312,68,28,7],[340,62,26,11],[368,60,30,9],[396,60,32,7],[424,61,34,11],[452,60,36,14],[480,60,36,10],[508,60,40,12],[536,60,42,16],[564,60,44,13],[592,60,46,17],[620,60,48,15],[17,56,4,7],[45,56,4,6],[75,56,8,5],[105,55,6,4],[135,55,12,5],[165,55,10,4],[195,55,15,5],[225,55,18,5],[255,55,20,6],[285,55,24,7],[312,47,24,8],[340,44,26,9],[368,44,28,10],[396,44,30,9],[424,44,30,11],[452,44,32,12],[480,44,34,11],[508,44,36,13],[536,44,38,13],[564,44,40,15],[592,44,42,14],[620,44,44,16],[648,44,46,15],[676,44,48,19],[704,44,50,18],[732,44,52,17],[760,44,52,14],[788,44,54,15],[816,44,56,14],[16,42,4,6],[45,41,4,5],[75,41,6,4],[105,41,8,4],[135,41,12,4],[165,41,12,4],[195,41,14,5],[225,41,18,5],[255,41,20,6],[285,41,22,7],[16,27,3,4],[46,26,3,4],[76,26,5,3],[106,26,8,3],[136,26,10,4],[166,26,12,5],[196,26,14,5],[226,26,16,6],[256,26,18,7],[286,26,20,8],[312,28,22,8],[340,26,24,9],[368,28,26,10],[396,27,28,10],[424,28,28,11],[452,27,30,11],[480,28,32,12],[508,27,34,12],[536,28,36,13],[564,27,38,14],[592,28,40,14],[620,27,42,15],[648,28,44,16],[676,27,46,17],[704,28,46,17],[732,27,48,18],[760,28,50,17],[788,27,52,17],[820,28,54,16],[36,11,2,3],[66,12,4,3],[96,12,6,3],[130,13,8,4],[160,12,10,5],[190,13,12,6],[220,12,14,7],[250,13,16,8],[280,12,18,8],[310,13,20,8],[340,12,22,9],[372,13,25,10],[406,13,28,11],[438,13,30,11],[470,13,32,12],[502,13,34,12],[534,13,36,13],[566,13,38,13],[598,13,40,14],[630,13,42,15],[662,13,44,15],[694,13,44,17],[726,13,46,18],[758,13,48,17],[790,13,52,17],[548,112,46,8],[572,111,48,7],[600,110,50,6],[628,111,52,6],[656,110,54,7],[684,111,56,7],[712,110,56,7],[740,111,60,7],[768,110,62,6],[796,111,64,6],[824,110,66,7],[852,111,68,8],[880,110,70,9],[908,111,72,9],[936,110,74,10],[964,111,76,11],[572,130,50,5],[600,128,52,5],[628,130,54,5],[656,128,56,5],[684,130,58,5],[712,128,60,5],[740,130,62,5],[768,128,64,5],[796,130,66,5],[824,128,68,5],[852,130,70,6],[880,128,72,7],[908,130,74,8],[936,128,76,9],[964,130,78,10],[990,127,80,11],[640,150,54,4],[668,148,58,4],[696,150,60,4],[724,148,62,4],[752,150,64,4],[780,148,66,4],[808,150,68,4],[836,148,70,5],[864,147,72,5],[892,148,74,6],[920,147,76,7],[948,148,78,8],[976,147,80,9],[1004,146,82,10],[710,167,60,3],[738,166,62,3],[766,165,66,3],[794,166,68,3],[822,165,70,3],[850,166,72,4],[878,165,76,4],[906,166,78,5],[934,165,80,6],[962,165,82,7],[990,165,84,8],[1010,163,84,9],[765,184,64,3],[793,184,68,2],[821,182,70,2],[849,184,74,3],[877,182,76,3],[905,184,78,4],[933,182,82,5],[961,184,84,5],[989,182,86,6],[1010,182,86,7],[820,202,74,2],[848,200,76,2],[876,202,78,2],[904,200,82,3],[932,202,84,4],[960,200,84,4],[988,202,86,5],[1012,201,87,6],[880,220,80,2],[908,218,82,2],[936,220,84,3],[964,218,86,3],[992,220,88,4],[1012,218,88,4],[930,236,86,2],[975,237,88,2],[1008,236,90,3]];
const fringeExtra=[[352,630,76,46],[362,618,78,44],[378,630,80,43],[395,614,80,41],[412,612,82,41],[430,625,84,40],[350,596,76,42],[366,592,74,40],[392,590,76,39],[412,586,78,37],[436,578,78,36],[358,574,72,38],[406,566,74,35],[432,552,76,33],[386,566,72,36],[370,544,70,33],[410,537,72,31],[388,522,68,31],[420,512,72,30],[448,544,76,31],[462,531,76,30],[444,508,74,28],[458,498,74,28],[452,478,72,27],[484,486,76,27],[506,482,78,26],[470,470,74,26],[490,476,76,26],[512,455,76,24],[496,448,74,24],[520,470,78,25],[445,436,70,26],[476,418,70,23],[510,420,74,22],[496,405,72,22],[530,410,74,21],[545,418,76,21],[522,396,72,20],[556,400,74,19],[540,370,70,17],[568,380,72,18],[546,358,68,16],[574,350,68,15],[560,335,66,14],[580,315,64,12],[566,318,62,12],[595,300,62,10],[578,272,60,9],[600,258,58,8],[618,250,60,7],[655,232,62,5],[666,222,62,4],[644,216,60,4],[610,236,58,6],[722,212,66,3],[746,206,68,2],[770,208,70,2],[790,218,72,2]];
const bandWide=[[262,76,30,2],[275,80,30,2],[290,84,32,2],[320,104,34,2],[335,97,36,2],[320,84,34,2],[350,113,37,2],[365,106,39,2],[350,93,37,2],[380,121,40,2],[395,114,41,2],[380,101,40,2],[410,130,42,2],[425,123,43,2],[410,110,42,2],[440,139,45,2],[455,132,46,2],[440,119,45,2],[470,147,47,2],[485,141,48,2],[470,127,47,2],[500,156,49,2],[515,149,50,2],[500,136,49,2],[530,165,51,2],[545,158,52,2],[530,145,51,2],[560,174,53,2],[575,167,54,2],[560,154,53,2],[590,182,55,1],[605,175,56,1],[590,162,55,1],[620,191,58,1],[635,184,59,1],[620,171,58,1],[650,200,60,1],[665,193,61,1],[650,180,60,1],[680,208,62,1],[695,202,64,1],[680,188,62,1],[710,217,65,1],[725,210,67,1],[710,197,65,1],[740,225,68,1],[755,219,70,1],[740,205,68,1],[770,234,72,1],[785,227,73,1],[770,214,72,1],[800,242,74,1],[815,236,76,1],[800,224,74,1],[830,250,78,1],[845,245,80,1],[830,234,78,1],[860,252,81,1]];
const bandThin=[[870,256,82,1],[878,250,82,1],[886,260,84,1],[894,253,84,1],[902,264,86,1],[910,257,86,1],[918,268,87,1],[926,262,88,1],[934,273,89,1],[942,266,90,1],[950,277,91,1],[958,271,92,1],[966,281,93,1],[974,276,94,1],[982,285,95,1],[990,281,95,1],[998,288,96,1],[1006,285,96,2],[1014,290,97,2],[1022,287,97,2],[1030,293,98,2]];

const xTicks=[0,.25,.5,.75,1,1.25,1.5];
const xMinor=[.05,.1,.15,.2,.3,.35,.4,.45,.55,.6,.65,.7,.8,.85,.9,.95,1.05,1.1,1.15,1.2,1.3,1.35,1.4,1.45];
const yTicks=[0,.1,.2,.3,.4,.5,.6,.7,.8];
const yMinor=[.02,.04,.06,.08,.12,.14,.16,.18,.22,.24,.26,.28,.32,.34,.36,.38,.42,.44,.46,.48,.52,.54,.56,.58,.62,.64,.66,.68,.72,.74,.76,.78,.82];
const etaTicks=[.2,.4,.6,.8,1,1.2];
const sinTicks=[.1,.2,.3,.4,.5,.6];
const etaDomain=[.0102,1.2885];
const sinDomain=[0,.675];
const rainbowStops=[0,.03,.215,.4,.586,.77,.954,1];
const rainbowColors=["#ff0029","#ff0000","#ffff00","#00ff00","#00ffff","#0000ff","#ff00ff","#ff00bf"];

const rows=a=>a.map(([x,y,e,s])=>({x:x/1000,y:y/1000,eta:e/100,sin:s/100}));
const groups=[[coreTop,13],[coreUpper,16],[coreLower,16],[wedge,15],[wedgeUpper,14],[speckleUpper,11],[speckleLower,11],[lobeTop,8],[fringeHigh,8],[fringeExtra,8],[fringeLow,8],[tail,8],[bandWide,16],[bandThin,9]];
const FONT='"Liberation Serif",serif';
const page=document.getElementById("page");
const colorOpts=d=>({type:"linear",domain:rainbowStops.map(t=>d[0]+t*(d[1]-d[0])),range:rainbowColors,interpolate:"rgb",clamp:true});

function panel(left,key,domain,mL,mR){
  const svg=Plot.plot({
    width:1950,height:1780,marginLeft:mL,marginRight:mR,marginTop:34,marginBottom:114,
    style:{fontFamily:FONT,fontSize:"72px",background:"transparent",color:"#000"},
    x:{domain:[-.0082,1.5],label:null},
    y:{domain:[-.0103,.8288],label:null},
    color:colorOpts(domain),
    marks:[
      ...groups.map(([g,r])=>Plot.dot(rows(g),{x:"x",y:"y",fill:key,r})),
      Plot.axisX({ticks:xMinor,tickSize:15,strokeWidth:5,tickFormat:()=>"",label:null}),
      Plot.axisX({ticks:xTicks,tickSize:27,strokeWidth:6,tickPadding:6,tickFormat:d=>d.toFixed(2),label:null,fontVariant:"normal"}),
      Plot.axisY({ticks:yMinor,tickSize:16,strokeWidth:5,tickFormat:()=>"",label:null}),
      Plot.axisY({ticks:yTicks,tickSize:30,strokeWidth:6,tickPadding:12,tickFormat:d=>d.toFixed(1),label:null,fontVariant:"normal"}),
      Plot.frame({stroke:"#000",strokeWidth:7})
    ]});
  svg.style.left=left+"px";svg.style.top="320px";
  page.appendChild(svg);
}
function colorbar(left,domain,ticks,fmt,mL,mR){
  const steps=d3.range(0,480).map(i=>({a:domain[0]+(domain[1]-domain[0])*i/480,b:domain[0]+(domain[1]-domain[0])*(i+1.5)/480}));
  const svg=Plot.plot({
    width:1950,height:210,marginLeft:mL,marginRight:mR,marginTop:133.5,marginBottom:5.5,
    style:{fontFamily:FONT,fontSize:"72px",background:"transparent",color:"#000"},
    x:{domain,label:null},
    y:{domain:[0,1],axis:null},
    color:colorOpts(domain),
    marks:[
      Plot.rect(steps,{x1:"a",x2:"b",y1:0,y2:1,fill:"a",shapeRendering:"crispEdges"}),
      Plot.ruleX(ticks,{x:d=>d,y1:1,y2:.6,stroke:"#000",strokeWidth:5}),
      Plot.axisX({anchor:"top",ticks,tickSize:0,tickPadding:14,tickFormat:fmt,label:null,fontVariant:"normal"}),
      Plot.frame({stroke:"#000",strokeWidth:7})
    ]});
  svg.style.left=left+"px";svg.style.top="100px";
  page.appendChild(svg);
}
panel(0,"eta",etaDomain,308.5,82);
panel(2040,"sin",sinDomain,308,80);
colorbar(0,etaDomain,etaTicks,d=>d.toFixed(1),308.5,82);
colorbar(2040,sinDomain,sinTicks,d=>d.toFixed(1),308,80);

function math(html,x,y,size,rot,spacing){
  const e=document.createElement("div");
  e.className="m"+(rot?" r":"");e.innerHTML=html;
  e.style.left=x+"px";e.style.top=y+"px";e.style.fontSize=size+"px";
  if(spacing)e.style.letterSpacing=spacing;
  page.appendChild(e);
}
const gg="|C<sub>sgg</sub>/SM|", yy="|C<sub>sγγ</sub>/SM|";
math("η <b>≡</b> v/f",1090,92,112,false,".12em");
math("<b>|sin</b> θ<sub>s</sub><b>|</b>",3112,78,125);
math(gg,1073,2137,136);
math(gg,3108,2137,136);
math(yy,85,1183,136,true);
math(yy,2130,1183,136,true);
</script></body></html>
